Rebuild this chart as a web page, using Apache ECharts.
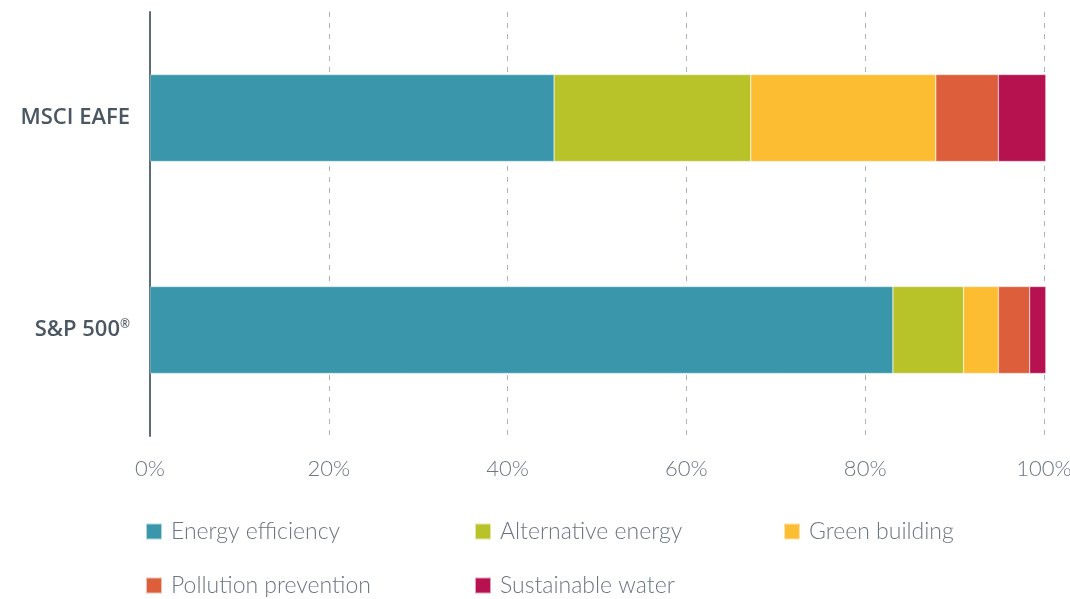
<!DOCTYPE html>
<html><head><meta charset="utf-8">
<script src="https://cdn.jsdelivr.net/npm/echarts@6/dist/echarts.min.js"></script>
<style>html,body{margin:0;padding:0;background:#fff}#c{width:1070px;height:599px}</style>
</head><body><div id="c"></div>
<script>
const categories = ['S&P 500®', 'MSCI EAFE'];
const seriesNames = ['Energy efficiency', 'Alternative energy', 'Green building', 'Pollution prevention', 'Sustainable water'];
const energyEfficiency = [83.1, 45.2];
const alternativeEnergy = [7.9, 22.0];
const greenBuilding = [3.9, 20.7];
const pollutionPrevention = [3.5, 7.0];
const sustainableWater = [1.8, 5.3];
const xTicks = [0, 20, 40, 60, 80, 100];

const colors = ['#3a97ab', '#b8c229', '#fdbd33', '#dd5e3b', '#b5124f'];
const values = [energyEfficiency, alternativeEnergy, greenBuilding, pollutionPrevention, sustainableWater];

const legendPos = [[145, 520], [474, 520], [783, 520], [145, 574], [474, 574]];
const legends = seriesNames.map((n, i) => ({
  data: [n], left: legendPos[i][0], top: legendPos[i][1], padding: 0,
  orient: 'horizontal', icon: 'rect', itemWidth: 16, itemHeight: 16,
  selectedMode: false,
  textStyle: { fontFamily: 'Lato', fontWeight: 300, fontSize: 23, color: '#6b7680', padding: [0, 0, 0, 4] }
}));

const chart = echarts.init(document.getElementById('c'));
chart.setOption({
  animation: false,
  color: colors,
  grid: { left: 150, right: 26, top: 12, bottom: 163, containLabel: false, outerBoundsMode: 'none' },
  legend: legends,
  xAxis: {
    type: 'value', min: 0, max: 100, interval: 20,
    axisLine: { show: false }, axisTick: { show: false },
    axisLabel: { formatter: v => xTicks.includes(v) ? v + '%' : '', margin: 22, fontFamily: 'Lato', fontWeight: 300, fontSize: 22, color: '#6b7680' },
    splitLine: { show: true, lineStyle: { type: [5, 6], color: '#a9b4bf', width: 1 } }
  },
  yAxis: {
    type: 'category', data: categories,
    axisLine: { show: true, lineStyle: { color: '#5c6b77', width: 2 } },
    axisTick: { show: false },
    axisLabel: {
      margin: 20, fontFamily: 'Open Sans', fontWeight: 600, fontSize: 22, color: '#4a5762',
      formatter: v => v.replace('®', '{sup|®}'),
      rich: { sup: { fontFamily: 'Open Sans', fontWeight: 600, fontSize: 12, color: '#4a5762', verticalAlign: 'top', padding: [0, 0, 8, 0] } }
    }
  },
  series: seriesNames.map((n, i) => ({
    name: n, type: 'bar', stack: 'total', data: values[i], barWidth: '41%', clip: false,
    itemStyle: { color: colors[i], borderColor: 'rgba(255,255,255,0.6)', borderWidth: 0.5 }
  }))
});
</script></body></html>
